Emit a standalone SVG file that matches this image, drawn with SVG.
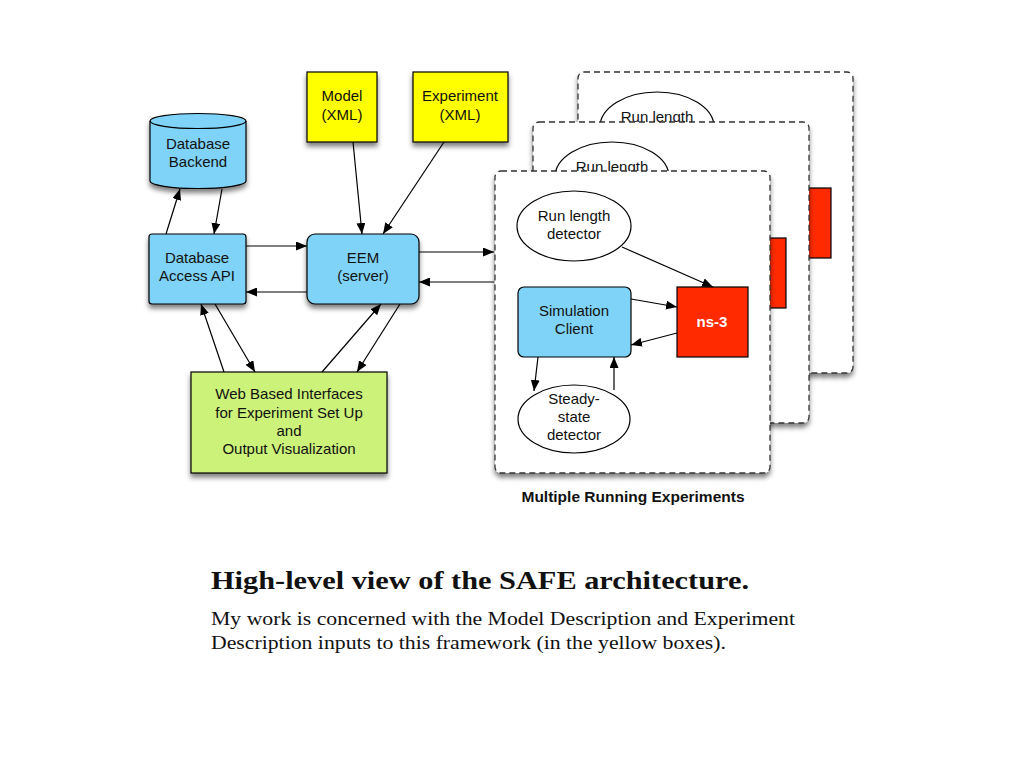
<svg xmlns="http://www.w3.org/2000/svg" width="1024" height="768" viewBox="0 0 1024 768">
<style>
.t{font-family:"Liberation Sans",Arial,sans-serif;font-size:15px;fill:#111;text-anchor:middle}
.ln{stroke:#000;stroke-width:1.2;fill:none}
.bx{stroke:#000;stroke-width:1.2}
.blue{fill:#80D3F8}
.yel{fill:#FFFF00}
.red{fill:#FF2A00}
.grn{fill:#CCF27A}
.dash{fill:#fff;stroke:#333;stroke-width:1.3;stroke-dasharray:6,4}
.ell{fill:#fff;stroke:#000;stroke-width:1.2}
</style>
<defs>
<marker id="ah" markerWidth="11" markerHeight="9" refX="11" refY="4.5" orient="auto" markerUnits="userSpaceOnUse"><path d="M0,0 L11,4.5 L0,9 z" fill="#000"/></marker>
<filter id="sh" x="-10%" y="-10%" width="125%" height="130%"><feDropShadow dx="0" dy="4" stdDeviation="2.5" flood-color="#000" flood-opacity="0.5"/></filter>
</defs>
<rect width="1024" height="768" fill="#fff"/>

<g id="exp-back">
<rect class="dash" x="578" y="72" width="275" height="301" rx="6" filter="url(#sh)"/>
<ellipse class="ell" cx="657" cy="127" rx="57" ry="35"/>
<text class="t" x="657" y="122">Run length</text>
<rect class="red bx" x="760" y="188" width="71" height="70"/>
</g>
<g id="exp-middle">
<rect class="dash" x="533" y="122" width="276" height="301" rx="6" filter="url(#sh)"/>
<ellipse class="ell" cx="612" cy="177" rx="57" ry="35"/>
<text class="t" x="612" y="172">Run length</text>
<rect class="red bx" x="715" y="238" width="71" height="70"/>
</g>
<g id="exp-front">
<rect class="dash" x="495" y="171" width="275" height="302" rx="6" filter="url(#sh)"/>
</g>

<g id="db-backend">
<path class="blue bx" d="M150,121 v60 a48,7.5 0 0 0 96,0 v-60 a48,7.5 0 0 0 -96,0 z" filter="url(#sh)"/>
<path class="bx" fill="none" d="M150,121 a48,7.5 0 0 0 96,0"/>
<text class="t" x="198" y="149">Database</text>
<text class="t" x="198" y="167">Backend</text>
</g>
<g id="db-api">
<rect class="blue bx" x="149" y="234" width="97" height="70" rx="3" filter="url(#sh)"/>
<text class="t" x="197" y="263">Database</text>
<text class="t" x="197" y="281">Access API</text>
</g>
<g id="eem">
<rect class="blue bx" x="307" y="234" width="112" height="70" rx="8" filter="url(#sh)"/>
<text class="t" x="363" y="263">EEM</text>
<text class="t" x="363" y="281">(server)</text>
</g>
<g id="model">
<rect class="yel bx" x="307" y="72" width="70" height="70" filter="url(#sh)"/>
<text class="t" x="342" y="101">Model</text>
<text class="t" x="342" y="120">(XML)</text>
</g>
<g id="experiment">
<rect class="yel bx" x="413" y="72" width="95" height="70" filter="url(#sh)"/>
<text class="t" x="460" y="101">Experiment</text>
<text class="t" x="460" y="120">(XML)</text>
</g>
<g id="web">
<rect class="grn bx" x="191" y="372" width="196" height="101" filter="url(#sh)"/>
<text class="t" x="289" y="399">Web Based Interfaces</text>
<text class="t" x="289" y="418">for Experiment Set Up</text>
<text class="t" x="289" y="436">and</text>
<text class="t" x="289" y="454">Output Visualization</text>
</g>
<g id="run-length">
<ellipse class="ell" cx="574" cy="226" rx="57" ry="35"/>
<text class="t" x="574" y="221">Run length</text>
<text class="t" x="574" y="239">detector</text>
</g>
<g id="sim-client">
<rect class="blue bx" x="518" y="287" width="113" height="70" rx="6"/>
<text class="t" x="574" y="316">Simulation</text>
<text class="t" x="574" y="334">Client</text>
</g>
<g id="ns3">
<rect class="red bx" x="677" y="287" width="71" height="70"/>
<text class="t" x="712" y="327" style="fill:#fff;font-weight:bold">ns-3</text>
</g>
<g id="steady">
<ellipse class="ell" cx="574" cy="419" rx="56" ry="34"/>
<text class="t" x="574" y="404">Steady-</text>
<text class="t" x="574" y="422">state</text>
<text class="t" x="574" y="440">detector</text>
</g>
<g id="label">
<text class="t" x="633" y="502" style="font-weight:bold;font-size:15.5px">Multiple Running Experiments</text>
</g>

<g id="connectors" class="ln" marker-end="url(#ah)">
<line x1="353" y1="142" x2="362" y2="234"/>
<line x1="444" y1="142" x2="383" y2="234"/>
<line x1="166" y1="234" x2="180" y2="189"/>
<line x1="222" y1="189" x2="214" y2="234"/>
<line x1="246" y1="246" x2="307" y2="246"/>
<line x1="307" y1="292" x2="246" y2="292"/>
<line x1="419" y1="252" x2="494" y2="252"/>
<line x1="494" y1="282" x2="419" y2="282"/>
<line x1="224" y1="372" x2="201" y2="304"/>
<line x1="215" y1="304" x2="255" y2="372"/>
<line x1="322" y1="372" x2="381" y2="304"/>
<line x1="400" y1="304" x2="357" y2="372"/>
<line x1="622" y1="247" x2="713" y2="287"/>
<line x1="631" y1="299" x2="677" y2="307"/>
<line x1="677" y1="333" x2="631" y2="345"/>
<line x1="538" y1="357" x2="534" y2="391"/>
<line x1="614" y1="390" x2="614" y2="357"/>
</g>

<g id="caption" style="font-family:'Liberation Serif','Times New Roman',serif;fill:#111">
<text x="211" y="589" style="font-size:25px;font-weight:bold" textLength="538" lengthAdjust="spacingAndGlyphs">High-level view of the SAFE architecture.</text>
<text x="211" y="625" style="font-size:19px" textLength="584" lengthAdjust="spacingAndGlyphs">My work is concerned with the Model Description and Experiment</text>
<text x="211" y="649" style="font-size:19px" textLength="515" lengthAdjust="spacingAndGlyphs">Description inputs to this framework (in the yellow boxes).</text>
</g>
</svg>
